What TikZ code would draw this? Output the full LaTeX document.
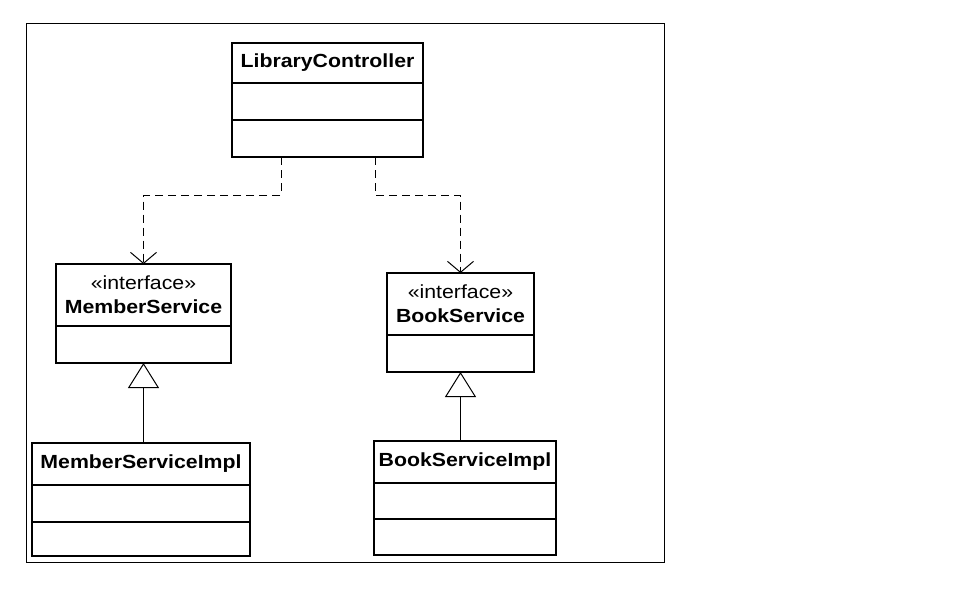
\documentclass[tikz,border=0pt]{standalone}
\usepackage{fontspec}
\newfontfamily\umlfont[FakeStretch=1.12]{Liberation Sans}
\usetikzlibrary{positioning,arrows.meta}

\begin{document}
\begin{tikzpicture}[x=1pt,y=-1pt,
  classname/.style={draw,line width=1.4pt,inner sep=0pt,outer sep=0pt,minimum height=40pt,
    font=\umlfont\bfseries\fontsize{19}{24}\selectfont},
  iface/.style={classname,minimum height=62pt,align=center},
  compart/.style={draw,line width=1.4pt,inner sep=0pt,outer sep=0pt,minimum height=37pt},
  depend/.style={line width=1pt,dash pattern=on 8pt off 5pt,-{Straight Barb[length=11pt,width=26pt]}},
  realize/.style={line width=1pt,-{Triangle[open,length=25pt,width=31pt,fill=white]}}]

\useasboundingbox (0,0) rectangle (962,606);

\draw[line width=1pt] (26,23) rectangle (664,562);

\node[classname,minimum width=191pt] (lc) at (327.5,63) {LibraryController};
\node[compart,minimum width=191pt,below=0pt of lc] (lcattr) {};
\node[compart,minimum width=191pt,below=0pt of lcattr] (lcops) {};

\node[iface,minimum width=175pt] (ms) at (143.5,295) {{\mdseries «interface»}\\MemberService};
\node[compart,minimum width=175pt,below=0pt of ms] (msattr) {};

\node[iface,minimum width=147pt] (bs) at (460.5,304) {{\mdseries «interface»}\\BookService};
\node[compart,minimum width=147pt,below=0pt of bs] (bsattr) {};

\node[classname,minimum width=218pt,minimum height=42pt] (msimpl) at (141,464) {MemberServiceImpl};
\node[compart,minimum width=218pt,below=0pt of msimpl] (msimplattr) {};
\node[compart,minimum width=218pt,minimum height=34pt,below=0pt of msimplattr] (msimplops) {};

\node[classname,minimum width=182pt,minimum height=42pt] (bsimpl) at (465,462) {BookServiceImpl};
\node[compart,minimum width=182pt,minimum height=36pt,below=0pt of bsimpl] (bsimplattr) {};
\node[compart,minimum width=182pt,minimum height=36pt,below=0pt of bsimplattr] (bsimplops) {};

\draw[depend] ([xshift=-46.5pt]lcops.south) -- ++(0,38) -| (ms.north);
\draw[depend] ([xshift=47.5pt]lcops.south) -- ++(0,38) -| (bs.north);

\draw[realize] (msimpl.north -| msattr.south) -- (msattr.south);
\draw[realize] (bsimpl.north -| bsattr.south) -- (bsattr.south);

\end{tikzpicture}
\end{document}
